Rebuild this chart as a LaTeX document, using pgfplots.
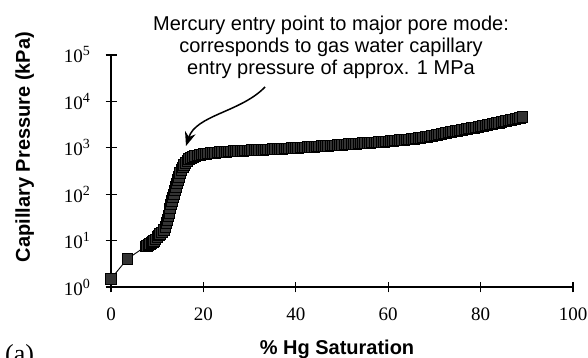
\documentclass[border=0pt]{standalone}
\usepackage{pgfplots}
\pgfplotsset{compat=1.18}
\usepackage{fontspec}
\setmainfont{Liberation Serif}
\newfontfamily\hv{Liberation Sans}
\usetikzlibrary{arrows.meta}
\newcommand{\tp}[1]{10\raisebox{7pt}{\fontsize{14}{14}\selectfont #1}}
\begin{document}
\begin{tikzpicture}[x=1pt,y=1pt]
\path[use as bounding box] (-111,-71) rectangle (477,287);
\begin{axis}[at={(0,0)}, anchor=south west, scale only axis,
  width=462pt, height=232pt,
  xmin=0, xmax=100, ymode=log, ymin=1, ymax=1e5,
  axis lines*=left,
  axis line style={line width=1.3pt},
  tick style={line width=1.3pt, black},
  tick align=center, major tick length=11pt,
  yminorticks=false, xminorticks=false,
  xtick={0,20,40,60,80,100},
  ytick={1,10,100,1000,10000,100000},
  yticklabels={\tp{0},\tp{1},\tp{2},\tp{3},\tp{4},\tp{5}},
  xticklabels={0,20,40,60,80,100},
  ticklabel style={font=\fontsize{19}{19}\selectfont},
  xticklabel style={yshift=-12pt},
  yticklabel style={xshift=-12pt},
  clip=false,
]
\addplot[black, line width=0.9pt, mark=square*, mark size=5.3pt,
  mark options={fill=black!80, draw=black, line width=0.7pt}]
coordinates {
(0,1.5) (3.5,4)
(7.5,7.5) (7.8,7.8) (8.1,8.1) (8.4,8.5) (8.7,8.9) (9,9.4) (9.3,10) (9.6,10.7) (10,12) (10.3,13) (10.6,14)
(11.0,15) (11.4,17) (11.8,20) (12.0,24) (12.2,28) (12.4,34) (12.6,40) (12.8,50) (13.0,60) (13.2,72) (13.4,85) (13.6,100) (13.8,120)
(14.0,145) (14.2,170) (14.45,205) (14.7,240) (14.95,285) (15.2,330) (15.5,380) (15.8,430) (16.1,480) (16.5,530) (16.9,575) (17.3,610)
(17.7,640) (18.2,670) (18.7,690) (19.2,710) (19.6,720)
(20,730) (20.5,745) (21,760) (21.5,770) (22,780) (22.5,790) (23,800) (23.5,808) (24,815) (24.5,822) (25,830)
(25.5,838) (26,845) (26.5,850) (27,855) (27.5,860) (28,865) (28.5,870) (29,875) (29.5,880) (30,885)
(30.5,890) (31,895) (31.5,900) (32,905) (32.5,910) (33,915) (33.5,920) (34,925) (34.5,932) (35,940)
(35.5,945) (36,950) (36.5,955) (37,960) (37.5,968) (38,975) (38.5,982) (39,990) (39.5,995) (40,1000)
(40.5,1008) (41,1015) (41.5,1022) (42,1030) (42.5,1038) (43,1045) (43.5,1052) (44,1060) (44.5,1070) (45,1080)
(45.5,1088) (46,1095) (46.5,1102) (47,1110) (47.5,1120) (48,1130) (48.5,1140) (49,1150) (49.5,1160) (50,1170)
(50.5,1180) (51,1190) (51.5,1200) (52,1210) (52.5,1220) (53,1230) (53.5,1240) (54,1250) (54.5,1260) (55,1270)
(55.5,1280) (56,1290) (56.5,1300) (57,1310) (57.5,1322) (58,1335) (58.5,1348) (59,1360) (59.5,1375) (60,1390)
(60.5,1405) (61,1420) (61.5,1435) (62,1450) (62.5,1465) (63,1480) (63.5,1495) (64,1510) (64.5,1530) (65,1550)
(65.5,1575) (66,1600) (66.5,1625) (67,1650) (67.5,1680) (68,1710) (68.5,1745) (69,1780) (69.5,1815) (70,1850)
(70.5,1895) (71,1940) (71.5,1990) (72,2040) (72.5,2095) (73,2150) (73.5,2200) (74,2250) (74.5,2300) (75,2350)
(75.5,2400) (76,2450) (76.5,2500) (77,2550) (77.5,2605) (78,2660) (78.5,2720) (79,2780) (79.5,2840) (80,2900)
(80.5,2975) (81,3050) (81.5,3125) (82,3200) (82.5,3275) (83,3350) (83.5,3425) (84,3500) (84.5,3600) (85,3700)
(85.5,3800) (86,3900) (86.5,4000) (87,4100) (87.5,4220) (88,4350) (88.5,4470) (89,4600)
};
\end{axis}
\draw[line width=1.5pt, -{Stealth[length=14pt,width=11pt]}] (154,200) .. controls (130,175) and (85,172) .. (75,141);
\node[font=\hv\fontsize{20}{20}\selectfont, anchor=base] at (220,256) {Mercury entry point to major pore mode:};
\node[font=\hv\fontsize{20}{20}\selectfont, anchor=base] at (220,234) {corresponds to gas water capillary};
\node[font=\hv\fontsize{20}{20}\selectfont, anchor=base] at (220,212) {entry pressure of approx. 1 MPa};
\node[font=\hv\bfseries\fontsize{20}{20}\selectfont, anchor=base] at (226,-67) {\% Hg Saturation};
\node[font=\hv\bfseries\fontsize{20}{20}\selectfont, anchor=base, rotate=90] at (-81,140) {Capillary Pressure (kPa)};
\node[font=\fontsize{26}{26}\selectfont, anchor=base west, inner sep=0pt] at (-106,-75) {(a)};
\end{tikzpicture}
\end{document}
